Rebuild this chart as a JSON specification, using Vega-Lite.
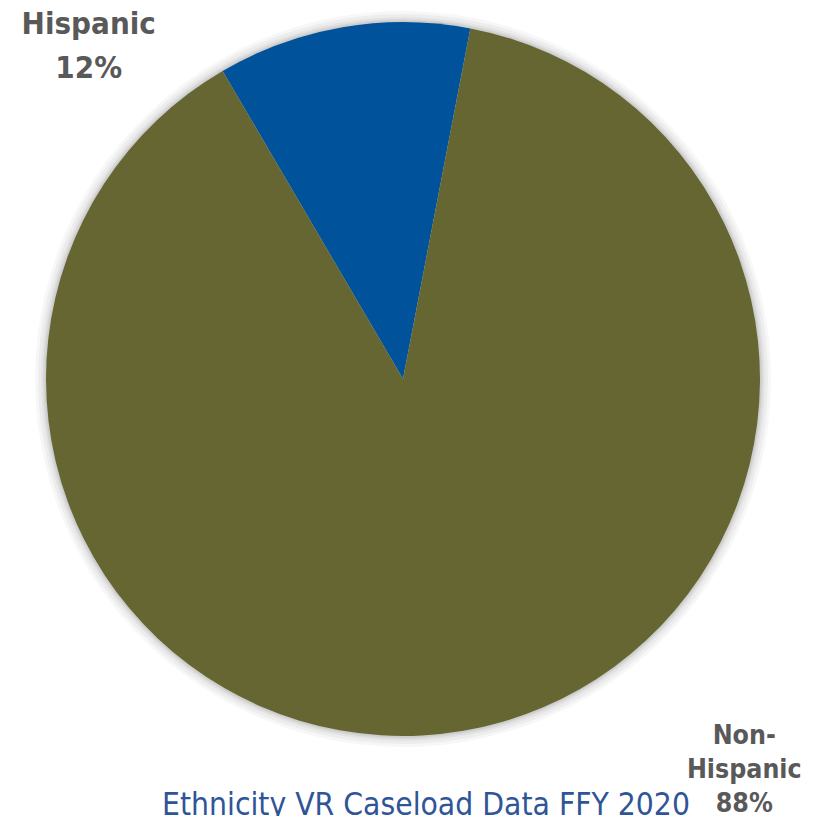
{
  "$schema": "https://vega.github.io/schema/vega-lite/v6.json",
  "autosize": "none",
  "width": 806,
  "height": 758,
  "padding": {"left": 0, "top": 0, "right": 15, "bottom": 58},
  "background": "white",
  "title": {
    "text": "Ethnicity VR Caseload Data FFY 2020",
    "orient": "bottom",
    "anchor": "middle",
    "frame": "group",
    "offset": -27,
    "baseline": "top",
    "dx": 23,
    "font": "DejaVu Sans Condensed",
    "fontSize": 31.5,
    "fontWeight": "normal",
    "color": "#2F5597"
  },
  "data": {
    "values": [
      {"ethnicity": "Hispanic", "share": 11.45, "label": "Hispanic\n12%", "order": 1},
      {"ethnicity": "Non-Hispanic", "share": 88.55, "label": "Non-\nHispanic\n88%", "order": 2}
    ]
  },
  "encoding": {
    "theta": {"field": "share", "type": "quantitative", "stack": true, "scale": {"range": [-0.5297, 5.7535]}},
    "order": {"field": "order", "type": "quantitative"}
  },
  "layer": [
    {"mark": {"type": "arc", "radius": 368, "color": "#000000", "opacity": 0.03}},
    {"mark": {"type": "arc", "radius": 365, "color": "#000000", "opacity": 0.04}},
    {"mark": {"type": "arc", "radius": 362, "color": "#000000", "opacity": 0.04}},
    {"mark": {"type": "arc", "radius": 360, "color": "#000000", "opacity": 0.05}},
    {"mark": {"type": "arc", "radius": 358.5, "color": "#000000", "opacity": 0.05}},
    {
      "mark": {"type": "arc", "radius": 357},
      "encoding": {
        "color": {
          "field": "ethnicity",
          "type": "nominal",
          "scale": {"domain": ["Hispanic", "Non-Hispanic"], "range": ["#00539B", "#666633"]},
          "legend": null
        }
      }
    },
    {
      "mark": {"type": "text", "radius": 380, "dx": -250, "dy": 6, "align": "center", "baseline": "top", "lineBreak": "\n", "lineHeight": 44, "font": "DejaVu Sans Condensed", "fontWeight": "bold", "fontSize": 31, "color": "#595959"},
      "encoding": {
        "text": {"condition": {"test": "datum.ethnicity === 'Hispanic'", "field": "label"}, "value": ""}
      }
    },
    {
      "mark": {"type": "text", "radius": 380, "dx": 277, "dy": -31, "align": "center", "baseline": "top", "lineBreak": "\n", "lineHeight": 34, "font": "DejaVu Sans Condensed", "fontWeight": "bold", "fontSize": 26.5, "color": "#595959"},
      "encoding": {
        "text": {"condition": {"test": "datum.ethnicity === 'Non-Hispanic'", "field": "label"}, "value": ""}
      }
    }
  ]
}
